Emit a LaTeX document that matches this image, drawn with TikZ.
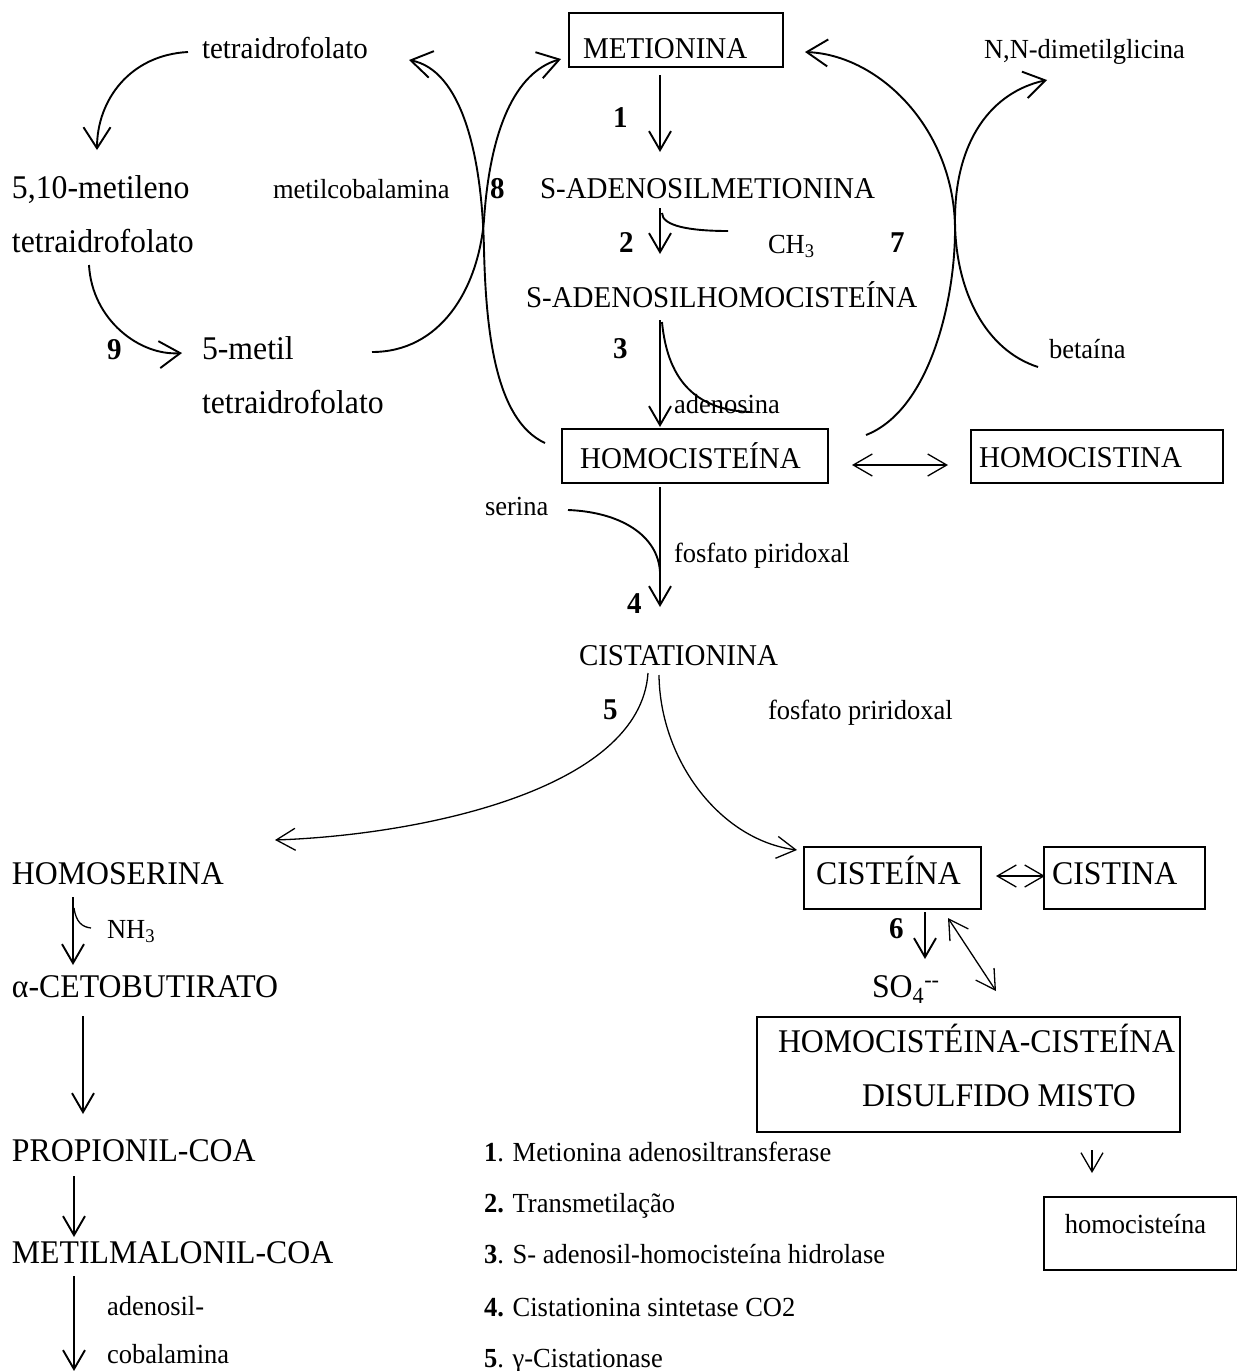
\documentclass[tikz,border=0pt]{standalone}
\usepackage{fontspec}
\setmainfont{Liberation Serif}[FakeStretch=0.96]
\usetikzlibrary{arrows.meta}
\newcommand\szL{\fontsize{30.2}{36}\selectfont}
\newcommand\szM{\fontsize{33.1}{40}\selectfont}
\newcommand\szS{\fontsize{27.6}{33}\selectfont}
\begin{document}
\begin{tikzpicture}[x=1pt,y=-1pt,
  txt/.style={anchor=base west, inner sep=0pt, outer sep=0pt},
  tL/.style={txt, font=\szL},
  tM/.style={txt, font=\szM},
  tS/.style={txt, font=\szS},
  num/.style={txt, font=\szL\bfseries},
  box/.style={draw, line width=2.2pt, anchor=base west, inner ysep=0pt, inner xsep=4pt, align=left},
  barb/.tip={Straight Barb[length=19pt,width=22pt]},
  bigbarb/.tip={Straight Barb[length=21pt,width=27pt]},
  arr/.style={line width=1.9pt, -barb},
  carr/.style={line width=1.9pt, -bigbarb},
  thinarr/.style={line width=1.3pt, -barb},
  dbl/.style={line width=1.3pt, barb-barb},
  hook/.style={line width=1.9pt},
  thinhook/.style={line width=1.3pt}]
\fill[white] (0,0) rectangle (1237,1371);
\useasboundingbox (0,0) rectangle (1237,1371);

% ---------- boxes ----------
\node[box, font=\szL, text width=206pt, text height=45pt, text depth=9pt] (met) at (568,58) {\noindent\hspace{10pt}METIONINA};
\node[box, font=\szL, text width=258pt, text height=39pt, text depth=15pt] (hcy) at (561,468) {\noindent\hspace{14pt}HOMOCISTEÍNA};
\node[box, font=\szL, text width=244pt, text height=37pt, text depth=16pt] (hcs) at (970,467) {\noindent\hspace{4pt}HOMOCISTINA};
\node[box, font=\szM, text width=169pt, text height=37pt, text depth=25pt] (cys) at (803,884) {\noindent\hspace{8pt}CISTEÍNA};
\node[box, font=\szM, text width=153pt, text height=37pt, text depth=25pt] (cyss) at (1043,884) {\noindent\hspace{4pt}CISTINA};
\node[box, font=\szS, line width=1.6pt, text width=185pt, text height=36pt, text depth=37pt] (hcyb) at (1043,1233) {\noindent\hspace{17pt}homocisteína};
\node[draw, line width=2.2pt, anchor=north west, inner sep=0pt, minimum width=423pt, minimum height=115pt] (mix) at (756,1016) {};
\node[tM] (mixa) at (778,1052) {HOMOCISTÉINA-CISTEÍNA};
\node[tM] (mixb) at (862,1106) {DISULFIDO MISTO};

% ---------- texts ----------
\node[tL] (thfA) at (202,58) {tetraidrofolato};
\node[tS] (dmg) at (984,58) {N,N-dimetilglicina};
\node[num] (n1) at (613,127) {1};
\node[tM] (mthf) at (12,198) {5,10-metileno};
\node[tS] (mcob) at (273,198) {metilcobalamina};
\node[num] (n8) at (490,198) {8};
\node[tL] (sam) at (540,198) {S-ADENOSILMETIONINA};
\node[tM] (thfB) at (12,252) {tetraidrofolato};
\node[num] (n2) at (619,252) {2};
\node[tS] (ch3) at (768,253) {CH\textsubscript{3}};
\node[num] (n7) at (890,252) {7};
\node[tL] (sah) at (526,307) {S-ADENOSILHOMOCISTEÍNA};
\node[num] (n3) at (613,358) {3};
\node[num] (n9) at (107,359) {9};
\node[tM] (mt) at (202,359) {5-metil};
\node[tS] (bet) at (1049,358) {betaína};
\node[tM] (thfC) at (202,413) {tetraidrofolato};
\node[tS] (ado) at (674,413) {adenosina};
\node[tS] (ser) at (485,515) {serina};
\node[tS] (pp1) at (674,562) {fosfato piridoxal};
\node[num] (n4) at (627,613) {4};
\node[tL] (cth) at (579,665) {CISTATIONINA};
\node[num] (n5) at (603,719) {5};
\node[tS] (pp2) at (768,719) {fosfato priridoxal};
\node[tM] (hser) at (12,884) {HOMOSERINA};
\node[tS] (nh3) at (107,938) {NH\textsubscript{3}};
\node[num] (n6) at (889,938) {6};
\node[tM] (so4) at (872,997) {SO\textsubscript{4}\textsuperscript{-{}-}};
\node[tM] (aket) at (12,997) {α-CETOBUTIRATO};
\node[tM] (prop) at (12,1161) {PROPIONIL-COA};
\node[tM] (mmal) at (12,1263) {METILMALONIL-COA};
\node[tS] (ados) at (107,1315) {adenosil-};
\node[tS] (cob) at (107,1363) {cobalamina};
\node[tS] (l1) at (484,1161) {\textbf{1}. Metionina adenosiltransferase};
\node[tS] (l2) at (484,1212) {\textbf{2.} Transmetilação};
\node[tS] (l3) at (484,1263) {\textbf{3}. S- adenosil-homocisteína hidrolase};
\node[tS] (l4) at (484,1316) {\textbf{4.} Cistationina sintetase CO2};
\node[tS] (l5) at (484,1367) {\textbf{5}. γ-Cistationase};

% ---------- connector end points ----------
\coordinate (metS) at (660,75);   \coordinate (samN) at (660,152);
\coordinate (samS) at (660,208);  \coordinate (sahN) at (660,254);
\coordinate (ch3h) at (662,213);  \coordinate (ch3e) at (728,231);
\coordinate (sahS) at (660,320);  \coordinate (hcyN) at (660,427);
\coordinate (adoh) at (662,322);  \coordinate (adoe) at (750,412);
\coordinate (thfAw) at (188,52);  \coordinate (mthfN) at (97,150);
\coordinate (thfBs) at (89,265); \coordinate (mtW) at (182,353);
\coordinate (mtE) at (372,352);   \coordinate (metW) at (561,59);
\coordinate (hcyW) at (545,443);  \coordinate (thfAe) at (409,60);
\coordinate (hcyE) at (866,435);  \coordinate (metE) at (805,52);
\coordinate (betW) at (1038,367); \coordinate (dmgS) at (1047,80);
\coordinate (hcyR) at (852,465);  \coordinate (hcsL) at (948,465);
\coordinate (hcyS) at (660,487);  \coordinate (cthN) at (660,607);
\coordinate (serE) at (568,510);  \coordinate (serM) at (660,572);
\coordinate (cthA) at (648,673);  \coordinate (hserE) at (275,840);
\coordinate (cthB) at (659,675);  \coordinate (cysW) at (797,850);
\coordinate (cysE) at (996,876);  \coordinate (cyssW) at (1045,876);
\coordinate (cysS) at (925,912);  \coordinate (so4N) at (925,959);
\coordinate (cysD) at (948,918);  \coordinate (mixN) at (996,991);
\coordinate (mixS) at (1092,1150); \coordinate (hcybN) at (1092,1173);
\coordinate (hserS) at (73,897);  \coordinate (aketN) at (73,965);
\coordinate (nh3h) at (74,908);   \coordinate (nh3e) at (91,928);
\coordinate (aketS) at (83,1016); \coordinate (propN) at (83,1114);
\coordinate (propS) at (74,1176); \coordinate (mmalN) at (74,1237);
\coordinate (mmalS) at (74,1276); \coordinate (bottom) at (74,1371);

% ---------- connectors ----------
\draw[arr] (metS) -- (samN);
\draw[arr] (samS) -- (sahN);
\draw[hook] (ch3h) .. controls (662,226) and (690,231) .. (ch3e);
\draw[arr] (sahS) -- (hcyN);
\draw[hook] (adoh) .. controls (668,385) and (700,410) .. (adoe);
\draw[carr] (thfAw) .. controls (130,55) and (97,100) .. (mthfN);
\draw[carr] (thfBs) .. controls (92,320) and (140,356) .. (mtW);
\draw[carr] (mtE) .. controls (440,352) and (478,290) .. (484,220)
                 .. controls (490,130) and (515,72) .. (metW);
\draw[carr] (hcyW) .. controls (495,420) and (486,330) .. (484,250)
                  .. controls (482,150) and (460,70) .. (thfAe);
\draw[carr] (hcyE) .. controls (930,410) and (955,300) .. (955,230)
                  .. controls (955,130) and (880,55) .. (metE);
\draw[carr] (betW) .. controls (985,350) and (955,290) .. (955,220)
                  .. controls (955,140) and (992,92) .. (dmgS);
\draw[dbl] (hcyR) -- (hcsL);
\draw[arr] (hcyS) -- (cthN);
\draw[hook] (serE) .. controls (620,512) and (658,535) .. (serM);
\draw[thinarr] (cthA) .. controls (640,790) and (420,835) .. (hserE);
\draw[thinarr] (cthB) .. controls (660,760) and (720,840) .. (cysW);
\draw[dbl] (cysE) -- (cyssW);
\draw[arr] (cysS) -- (so4N);
\draw[dbl] (cysD) -- (mixN);
\draw[thinarr] (mixS) -- (hcybN);
\draw[arr] (hserS) -- (aketN);
\draw[thinhook] (nh3h) .. controls (76,922) and (82,927) .. (nh3e);
\draw[arr] (aketS) -- (propN);
\draw[arr] (propS) -- (mmalN);
\draw[arr] (mmalS) -- (bottom);
\end{tikzpicture}
\end{document}
